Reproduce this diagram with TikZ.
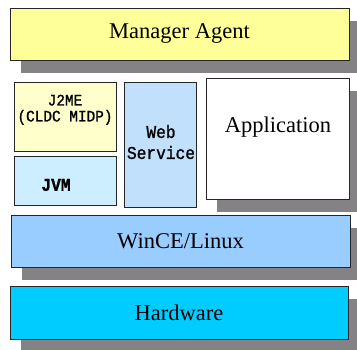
\documentclass[tikz,border=0pt]{standalone}
\usepackage{fontspec}
\setmainfont{Liberation Serif}
\newfontfamily\boxmono[FakeStretch=0.9, FakeBold=1.2]{Liberation Mono}
\usepackage{tikz}
\usetikzlibrary{positioning,shadows}

\definecolor{shadowgray}{HTML}{858285}
\definecolor{mgryellow}{HTML}{FFFF99}
\definecolor{j2meyellow}{HTML}{FFFFCC}
\definecolor{jvmblue}{HTML}{CCEEFF}
\definecolor{wsblue}{HTML}{C0E0FC}
\definecolor{osblue}{HTML}{99CCFF}
\definecolor{hwcyan}{HTML}{00CCFF}

\begin{document}
\begin{tikzpicture}[x=1pt,y=-1pt,
    layer/.style={draw=black!85, line width=0.9pt, inner sep=0pt,
        drop shadow={shadow xshift=11pt, shadow yshift=-13pt, fill=shadowgray, opacity=1}},
    plain/.style={draw=black!85, line width=0.9pt, inner sep=0pt},
    serif/.style={font=\fontsize{22.5}{26}\selectfont},
    mono/.style={font=\boxmono\fontsize{16}{16}\selectfont, align=center, inner sep=0pt}]
    \useasboundingbox (0,0) rectangle (357,350);

    % top layer
    \node[layer, fill=mgryellow, minimum width=339pt, minimum height=52pt, serif] (mgr) at (179.5,34) {Manager Agent};

    % middle column boxes
    \node[plain, fill=j2meyellow, minimum width=102pt, minimum height=69pt] (j2me) at (65,116.5) {};
    \node[mono, below=13pt of j2me.north] (j2metxt) {J2ME\\(CLDC MIDP)};
    \node[plain, fill=jvmblue, minimum width=102pt, minimum height=49pt] (jvm) at (65,180.5) {};
    \node[mono, font=\boxmono\bfseries\fontsize{18}{19}\selectfont] (jvmtxt) at (56,185) {JVM};
    \node[plain, fill=wsblue, minimum width=72pt, minimum height=125pt] (ws) at (160,144.5) {};
    \node[mono, font=\boxmono\fontsize{18}{21}\selectfont] (wstxt) at (161,142) {Web\\Service};
    \node[layer, fill=white, minimum width=143pt, minimum height=121pt] (app) at (277.5,138.5) {};
    \node[serif, inner sep=0pt] (apptxt) at (278,127) {Application};

    % lower layers
    \node[layer, fill=osblue, minimum width=339pt, minimum height=52pt, serif] (os) at (180.5,241) {WinCE/Linux};
    \node[layer, fill=hwcyan, minimum width=338pt, minimum height=53pt, serif] (hw) at (179,312.5) {Hardware};
\end{tikzpicture}
\end{document}
